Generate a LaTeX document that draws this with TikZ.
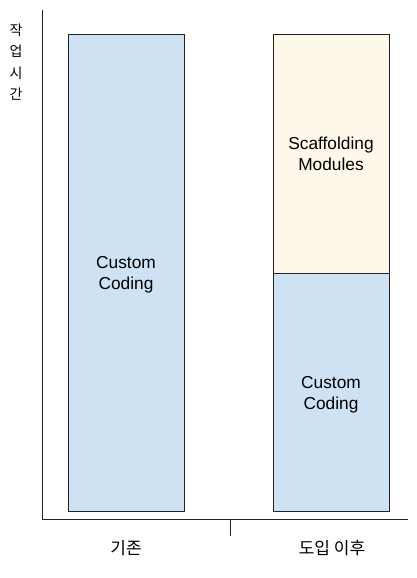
\documentclass[tikz,border=0pt]{standalone}
\usepackage{fontspec}
\setmainfont{Liberation Sans}
\newfontfamily\kr{Noto Sans CJK KR}
\usepackage{xcolor}
\usepackage{tikz}
\usetikzlibrary{
  calc,
  positioning
}
\definecolor{barblue}{HTML}{CFE2F3}
\definecolor{barcream}{HTML}{FEF8EA}
\definecolor{edgegray}{HTML}{222222}
\tikzset{
  bar/.style={
    draw=edgegray,
    line width=0.9pt,
    inner sep=0pt,
    minimum width=116pt},
  bartext/.style={
    align=center,
    inner sep=0pt,
    font=\fontsize{17.3}{21.5}\selectfont},
  axis/.style={
    draw=edgegray,
    line width=0.9pt},
  krlabel/.style={
    font=\kr\fontsize{17}{21}\selectfont,
    inner sep=0pt}
  }

\begin{document}
\begin{tikzpicture}[x=1pt,y=-1pt]
    \useasboundingbox (0,0) rectangle (416,578);
    \node[bar,fill=barblue,minimum height=477pt] (old) at (126,272.5) {};
    \node[bar,fill=barblue,minimum height=238pt] (newcode) at (331,392) {};
    \node[bar,fill=barcream,minimum height=239pt] (newscaf) at (331,153.5) {};
    \node[bartext] (oldtext) at (126,275) {Custom\\Coding};
    \node[bartext] (newcodetext) at (331,395) {Custom\\Coding};
    \node[bartext] (newscaftext) at (331,154) {Scaffolding\\Modules};
    \coordinate (origin) at (42,519);
    \coordinate (ytop) at (42,10);
    \coordinate (xend) at (408,519);
    \coordinate (tick) at (230,519);
    \coordinate (tickend) at (230,536);
    \draw [axis]
    (ytop) -- (origin) -- (xend)
    (tick) edge[] (tickend);
    \node[krlabel] (before) at (126,548) {기존};
    \node[krlabel] (after) at (332,548) {도입 이후};
    \node[krlabel,font=\kr\fontsize{14}{21.5}\selectfont,align=center] (worktime) at (16,62) {작\\업\\시\\간};
  \end{tikzpicture}
\end{document}
